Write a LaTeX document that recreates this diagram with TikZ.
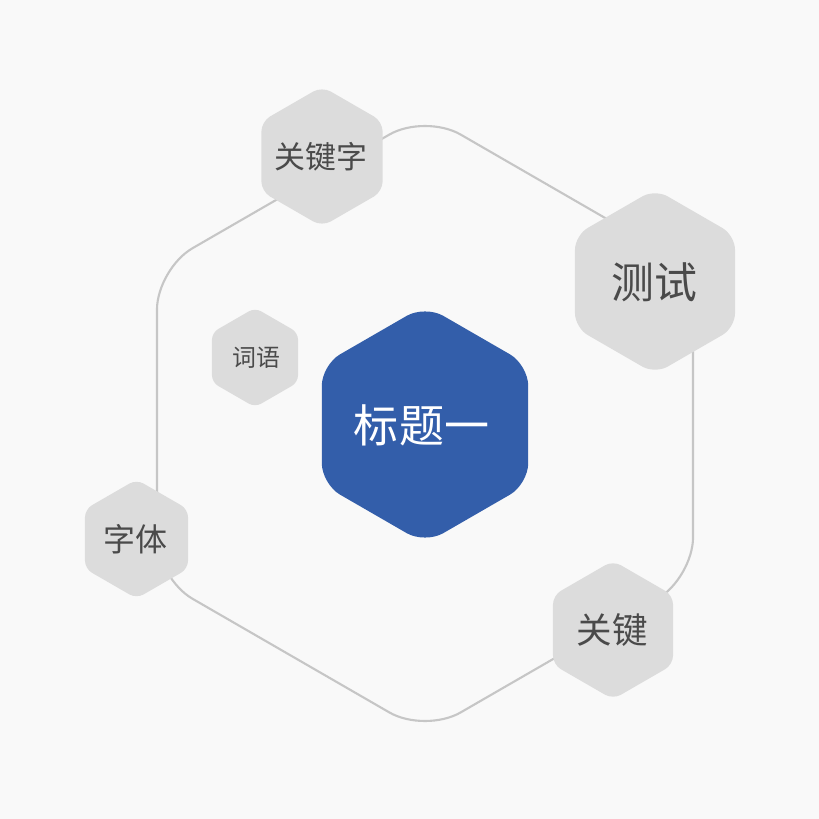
\documentclass[tikz,border=0pt]{standalone}
\usepackage{fontspec}
\newfontfamily\cjk{Noto Sans CJK SC}
\definecolor{bgc}{HTML}{F9F9F9}
\definecolor{hexgray}{HTML}{DCDCDC}
\definecolor{hexblue}{HTML}{335EAA}
\definecolor{linec}{HTML}{C6C6C6}
\definecolor{txtc}{HTML}{4A4A4A}
\newcommand\myhex[5]{\path[#5, rounded corners=#4, shift={(#1,#2)}] (60:{0.8660254*#3}) -- (30:#3) -- (-30:#3) -- (-90:#3) -- (-150:#3) -- (150:#3) -- (90:#3) -- cycle;}
\tikzset{
  lbl/.style={inner sep=0pt, text=txtc},
  grayhex/.style={fill=hexgray},
  bluehex/.style={fill=hexblue},
  outline/.style={draw=linec, line width=0.6pt}
}
\begin{document}
\begin{tikzpicture}[x=0.01cm,y=-0.01cm]
\fill[bgc] (0,0) rectangle (819,819);
\useasboundingbox (0,0) rectangle (819,819);
% large outline hexagon
\myhex{425}{423.5}{309.5}{0.41cm}{outline}
% small hexagons
\myhex{322}{156.5}{70}{0.1cm}{grayhex}
\myhex{655}{281.5}{92.4}{0.145cm}{grayhex}
\myhex{255}{357.5}{49.7}{0.07cm}{grayhex}
\myhex{425}{424.5}{119.2}{0.21cm}{bluehex}
\myhex{136.5}{539}{59.5}{0.08cm}{grayhex}
\myhex{613}{630}{69.3}{0.09cm}{grayhex}
% labels
\node[lbl, font=\cjk\fontsize{8.8pt}{10pt}\selectfont] (kw3) at (321,157) {关键字};
\node[lbl, font=\cjk\fontsize{12.2pt}{14pt}\selectfont] (test) at (654.5,282.5) {测试};
\node[lbl, font=\cjk\fontsize{6.8pt}{8pt}\selectfont] (word) at (256,357.5) {词语};
\node[lbl, text=white, font=\cjk\fontsize{12.8pt}{14pt}\selectfont] (title) at (421.5,425.5) {标题一};
\node[lbl, font=\cjk\fontsize{9.1pt}{10pt}\selectfont] (font) at (135,539) {字体};
\node[lbl, font=\cjk\fontsize{10.1pt}{12pt}\selectfont] (kw2) at (612.5,630.5) {关键};
\end{tikzpicture}
\end{document}
